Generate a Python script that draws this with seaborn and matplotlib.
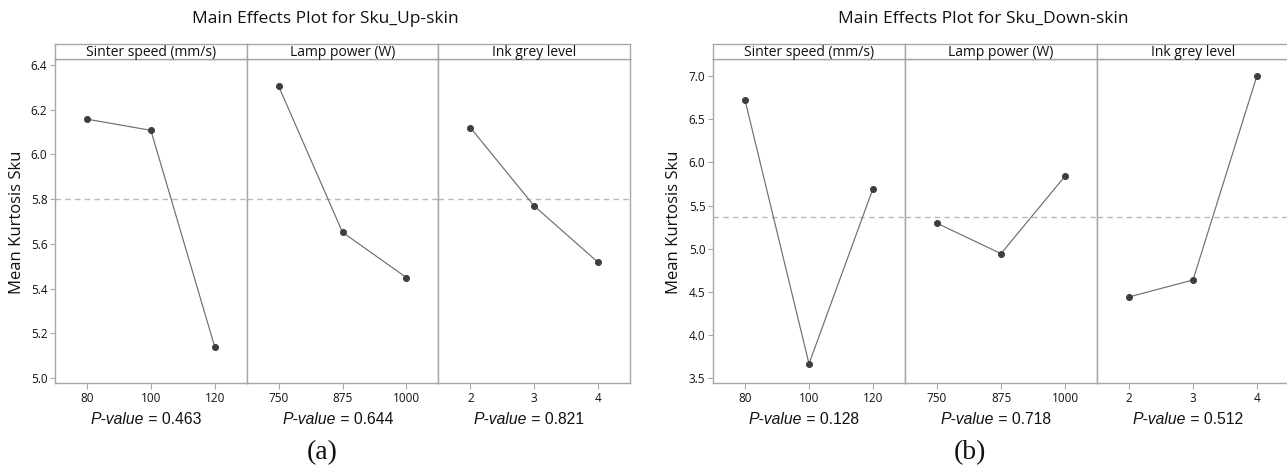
import numpy as np
import pandas as pd
import matplotlib
matplotlib.use("Agg")
import matplotlib.pyplot as plt
import seaborn as sns

# ---------------- data ----------------
factors = ["Sinter speed (mm/s)", "Lamp power (W)", "Ink grey level"]
sinter_levels = ["80", "100", "120"]
lamp_levels = ["750", "875", "1000"]
ink_levels = ["2", "3", "4"]

up_sinter = [6.158, 6.108, 5.140]
up_lamp = [6.305, 5.652, 5.450]
up_ink = [6.120, 5.770, 5.518]
up_mean = 5.803
up_pvalues = ["0.463", "0.644", "0.821"]
up_yticks = [5.0, 5.2, 5.4, 5.6, 5.8, 6.0, 6.2, 6.4]

down_sinter = [6.722, 3.668, 5.697]
down_lamp = [5.295, 4.943, 5.840]
down_ink = [4.442, 4.638, 7.005]
down_mean = 5.362
down_pvalues = ["0.128", "0.718", "0.512"]
down_yticks = [3.5, 4.0, 4.5, 5.0, 5.5, 6.0, 6.5, 7.0]

titles = ["Main Effects Plot for Sku_Up-skin", "Main Effects Plot for Sku_Down-skin"]
ylabel = "Mean Kurtosis Sku"
sub_labels = ["(a)", "(b)"]

# ---------------- style ----------------
sns.set_theme(style="white")
plt.rcParams["font.family"] = ["Open Sans", "DejaVu Sans"]

W, H = 1287, 470
fig = plt.figure(figsize=(W / 100, H / 100), dpi=100)

def fx(px):
    return px / W

def fy(py):
    return 1 - py / H

FRAME = "#a6a6a6"
LINE = "#6e6e6e"
MARK = "#3e3e3e"
MEANC = "#b8b8b8"
TXT = "#111111"

charts = [
    dict(bounds=[55, 246.7, 438.4, 630], ylim=(4.980, 6.4255), yticks=up_yticks,
         series=[up_sinter, up_lamp, up_ink], mean=up_mean, pvals=up_pvalues,
         title=titles[0], title_x=325, ylabel_x=17, sub=sub_labels[0], sub_x=322),
    dict(bounds=[713, 905, 1097, 1289], ylim=(3.449, 7.193), yticks=down_yticks,
         series=[down_sinter, down_lamp, down_ink], mean=down_mean, pvals=down_pvalues,
         title=titles[1], title_x=983, ylabel_x=674, sub=sub_labels[1], sub_x=970),
]
level_sets = [sinter_levels, lamp_levels, ink_levels]

TOP, BOT, STRIP_TOP = 59.3, 382.7, 44.0

for ch in charts:
    b = ch["bounds"]
    for i in range(3):
        L, R = b[i], b[i + 1]
        ax = fig.add_axes([fx(L), fy(BOT), (R - L) / W, (BOT - TOP) / H])
        df = pd.DataFrame({"level": level_sets[i], "mean": ch["series"][i]})
        ax.axhline(ch["mean"], color=MEANC, lw=1.0, ls=(0, (4, 3)), zorder=1)
        sns.pointplot(data=df, x="level", y="mean", order=level_sets[i],
                      color=LINE, markers="o", linewidth=0.85, markersize=4.4,
                      markerfacecolor=MARK, markeredgecolor=MARK,
                      errorbar=None, ax=ax, zorder=3)
        ax.set_xlim(-0.5, 2.5)
        ax.set_ylim(*ch["ylim"])
        ax.set_xlabel("")
        ax.set_ylabel("")
        for s in ax.spines.values():
            s.set_color(FRAME)
            s.set_linewidth(1.0)
        ax.tick_params(axis="x", bottom=True, length=4, width=0.8, color=FRAME,
                       labelsize=8.5, labelcolor=TXT, pad=3)
        if i == 0:
            ax.set_yticks(ch["yticks"])
            ax.set_yticklabels([f"{v:.1f}" for v in ch["yticks"]])
            ax.tick_params(axis="y", left=True, length=3.5, width=0.8, color=FRAME,
                           labelsize=8.5, labelcolor=TXT, pad=2)
        else:
            ax.set_yticks(ch["yticks"])
            ax.tick_params(axis="y", left=False, labelleft=False)
        # strip header
        sax = fig.add_axes([fx(L), fy(TOP), (R - L) / W, (TOP - STRIP_TOP) / H])
        sax.set_xticks([])
        sax.set_yticks([])
        sax.set_facecolor("white")
        for s in sax.spines.values():
            s.set_color(FRAME)
            s.set_linewidth(1.0)
        sax.text(0.5, 0.45, factors[i], ha="center", va="center", fontsize=10,
                 color=TXT, transform=sax.transAxes)
        # p-value text
        cx = (L + R) / 2 - 7
        fig.text(fx(cx), fy(419), "P-value", ha="right", va="center",
                 fontsize=11.3, style="italic", family="Liberation Sans", color=TXT)
        fig.text(fx(cx), fy(419), " = " + ch["pvals"][i], ha="left", va="center",
                 fontsize=11.3, family="Liberation Sans", color=TXT)
    fig.text(fx(ch["title_x"]), fy(19), ch["title"], ha="center", va="center",
             fontsize=12.5, color=TXT)
    fig.text(fx(ch["ylabel_x"]), fy(222), ylabel, ha="center", va="center",
             rotation=90, fontsize=12, color=TXT)
    fig.text(fx(ch["sub_x"]), fy(453), ch["sub"], ha="center", va="center",
             fontsize=20, family="Liberation Serif", color=TXT)

fig.savefig("out.png", dpi=100, facecolor="white")
